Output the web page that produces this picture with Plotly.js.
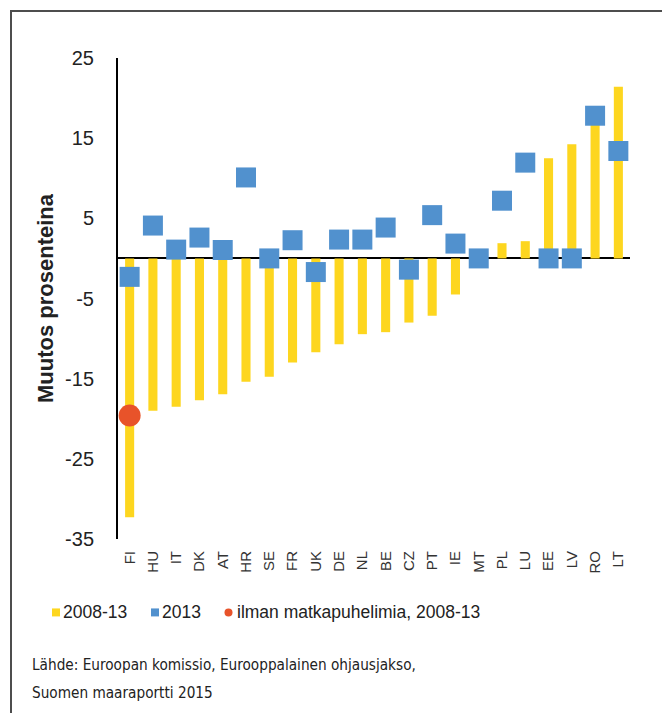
<!DOCTYPE html>
<html>
<head>
<meta charset="utf-8">
<script src="https://cdn.plot.ly/plotly-3.0.1.min.js"></script>
<style>
  html, body { margin: 0; padding: 0; background: #fff; }
  #frame { position: absolute; left: 10px; top: 10px; width: 652px; height: 703px;
           border-top: 2px solid #4d4d4d; border-left: 2px solid #4d4d4d; box-sizing: border-box; }
  #chart { position: absolute; left: 0; top: 0; width: 662px; height: 713px; }
</style>
</head>
<body>
<div id="frame"></div>
<div id="chart"></div>
<script>
// Data
const countries = ["FI","HU","IT","DK","AT","HR","SE","FR","UK","DE","NL","BE","CZ","PT","IE","MT","PL","LU","EE","LV","RO","LT"];
const change2008_13 = [-32.3,-19.0,-18.5,-17.7,-16.95,-15.4,-14.75,-12.97,-11.7,-10.7,-9.45,-9.2,-8.0,-7.15,-4.5,0,1.9,2.15,12.5,14.25,17.5,21.4];
const change2013 = [-2.3,4.1,1.1,2.6,1.05,10.1,0,2.27,-1.7,2.35,2.35,3.85,-1.4,5.4,1.85,0,7.2,11.95,0,0,17.8,13.4];
const noMobileCountry = ["FI"];
const noMobile2008_13 = [-19.6];
const yTicks = [25,15,5,-5,-15,-25,-35];
const legendLabels = ["2008-13","2013","ilman matkapuhelimia, 2008-13"];
const sourceLines = ["Lähde: Euroopan komissio, Eurooppalainen ohjausjakso,", "Suomen maaraportti 2015"];

const YELLOW = "#FDD61F", BLUE = "#5191CE", RED = "#E8532A";

// plot area in pixels
const L = 118, R = 630, T = 58, B = 539.5, W = 662, H = 713;
const px = x => (x - L) / (R - L);
const py = y => (B - y) / (B - T);

const traces = [
  { type: "bar", x: countries, y: change2008_13, name: legendLabels[0],
    marker: { color: YELLOW }, showlegend: false, hoverinfo: "x+y" },
  { type: "scatter", mode: "markers", x: countries, y: change2013, name: legendLabels[1],
    marker: { symbol: "square", size: 20, color: BLUE }, showlegend: false },
  { type: "scatter", mode: "markers", x: noMobileCountry, y: noMobile2008_13, name: legendLabels[2],
    marker: { symbol: "circle", size: 22, color: RED }, showlegend: false }
];

const textFont = { family: "Liberation Sans, Arial, sans-serif", size: 17.5, color: "#222" };
const srcFont = { family: "Liberation Sans Narrow, DejaVu Sans Condensed, Arial Narrow, sans-serif", size: 15.2, color: "#222" };

const shapes = [
  { type: "rect", xref: "paper", yref: "paper", x0: px(52), x1: px(60), y0: py(617), y1: py(609),
    fillcolor: YELLOW, line: { width: 0 } },
  { type: "rect", xref: "paper", yref: "paper", x0: px(151), x1: px(159), y0: py(617), y1: py(609),
    fillcolor: BLUE, line: { width: 0 } },
  { type: "circle", xref: "paper", yref: "paper", x0: px(224.5), x1: px(232.5), y0: py(617), y1: py(609),
    fillcolor: RED, line: { width: 0 } }
];

const annotations = [
  { text: legendLabels[0], x: px(61), y: py(612.5) },
  { text: legendLabels[1], x: px(160), y: py(612.5) },
  { text: legendLabels[2], x: px(235), y: py(612.5) }
].map(a => Object.assign({ xref: "paper", yref: "paper", xanchor: "left", yanchor: "middle",
    showarrow: false, font: textFont }, a));

sourceLines.forEach((t, i) => annotations.push({
  text: t, xref: "paper", yref: "paper", x: px(30), y: py(666 + i * 27.5),
  xanchor: "left", yanchor: "middle", showarrow: false, font: srcFont
}));

const layout = {
  width: W, height: H,
  margin: { l: L, r: W - R, t: T, b: H - B, pad: 0 },
  paper_bgcolor: "rgba(0,0,0,0)", plot_bgcolor: "rgba(0,0,0,0)",
  font: { family: "Liberation Sans, Arial, sans-serif", color: "#222" },
  showlegend: false,
  bargap: 0.61,
  xaxis: {
    type: "category", showline: false, showgrid: false, zeroline: false, ticks: "",
    tickangle: -90, tickfont: { size: 15, color: "#333" }, ticklabelstandoff: 8,
    range: [-0.5, countries.length - 0.5], fixedrange: true
  },
  yaxis: {
    range: [-35, 25], tickvals: yTicks, ticktext: yTicks.map(String),
    showgrid: false, zeroline: true, zerolinecolor: "#000", zerolinewidth: 2,
    showline: true, linecolor: "#000", linewidth: 2, ticks: "",
    tickfont: { size: 20, color: "#222" }, ticklabelstandoff: 18,
    title: { text: "<b>Muutos prosenteina</b>", font: { size: 22, color: "#222" }, standoff: 5 },
    fixedrange: true
  },
  shapes: shapes,
  annotations: annotations
};

Plotly.newPlot("chart", traces, layout, { displayModeBar: false, staticPlot: true });
</script>
</body>
</html>
